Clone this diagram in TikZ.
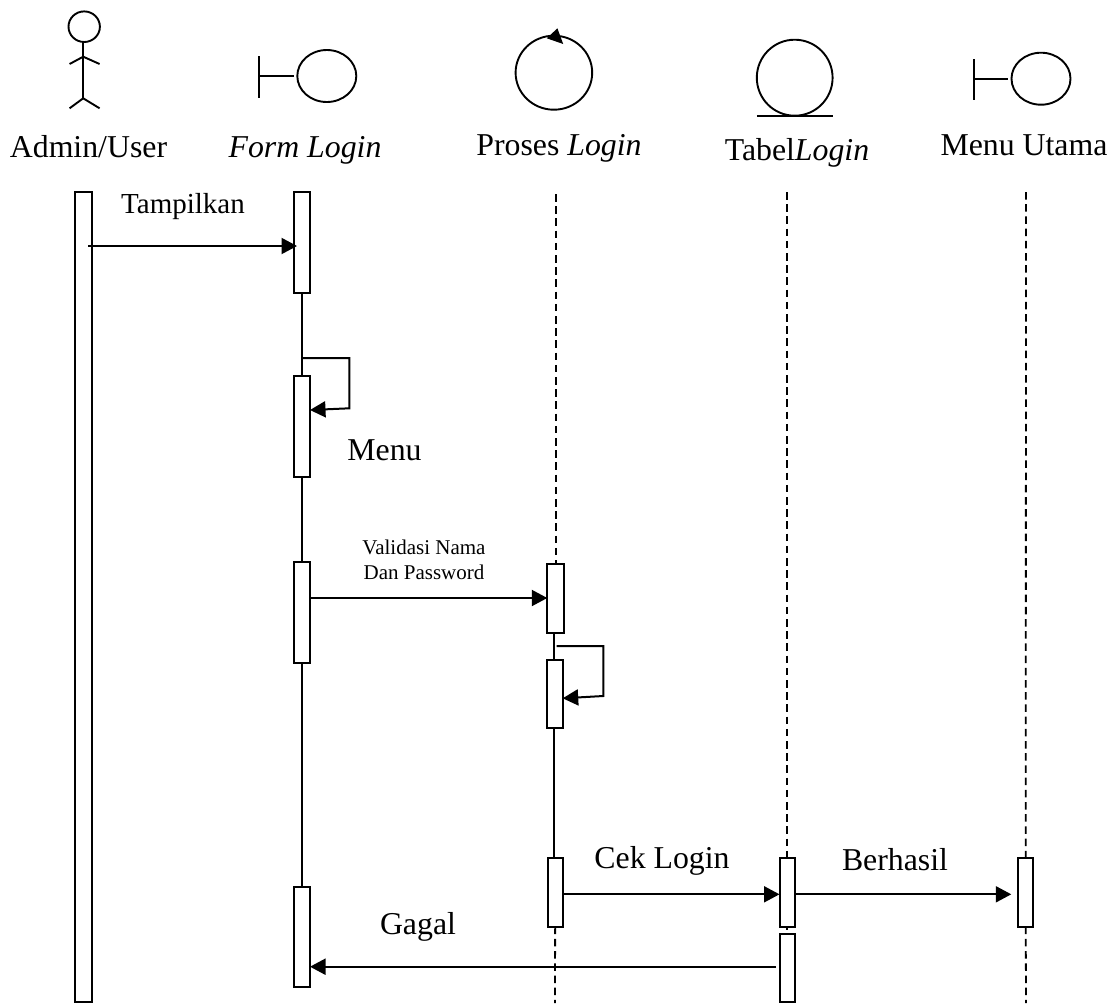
\documentclass[tikz,border=0pt]{standalone}
\usepackage{fontspec}
\setmainfont{Liberation Serif}
\usetikzlibrary{arrows.meta,calc,positioning}

\newcommand{\LabelFont}{\fontsize{31.8}{36}\selectfont}
\newcommand{\CallFont}{\fontsize{29}{33}\selectfont}
\newcommand{\SmallFont}{\fontsize{21}{25}\selectfont}

\begin{document}
\begin{tikzpicture}[
  x=1pt,y=-1pt,
  line cap=butt,
  line join=miter,
  >={Triangle[length=15.5pt,width=16pt]},
  icon/.style={draw=black,line width=1.9pt},
  activation/.style={draw=black,fill=white,line width=2pt,inner sep=0pt,outer sep=0pt},
  lifeline/.style={black,line width=1.9pt},
  dashline/.style={black,line width=1.8pt,dash pattern=on 7.5pt off 4.7pt},
  message/.style={black,line width=2pt,->},
  title text/.style={font=\LabelFont,anchor=base,inner sep=0pt},
  call text/.style={font=\LabelFont,anchor=base,inner sep=0pt}
]
\useasboundingbox (0,0) rectangle (1112,1005);

% Boundary icon: bar, stem and ellipse around one centre line.
\newcommand{\DrawBoundary}[6]{%
  \draw[icon] (#1,#2) -- (#1,#3);
  \draw[icon] (#1,#4) -- (#5-33,#4);
  \draw[icon] (#5,#4) ellipse (29.5 and #6);
}

% An activation bar given by its corners.
\newcommand{\ActBar}[5]{%
  \pgfmathsetmacro{\barW}{#4-#2}
  \pgfmathsetmacro{\barH}{#5-#3}
  \node[activation,minimum width=\barW pt,minimum height=\barH pt]
    (#1) at ({(#2+#4)/2},{(#3+#5)/2}) {};
}

% Actor.
\draw[icon] (84.2,26.7) ellipse (15.7 and 15.3);
\draw[icon] (83.2,42) -- (83.2,98.3);
\draw[icon] (69.6,64) -- (83.2,56.7) -- (99.6,64);
\draw[icon] (69.6,108.3) -- (83.2,98.3) -- (99.6,108.3);

% Boundary, control, entity, boundary.
\DrawBoundary{259.3}{56}{97.7}{76}{326.8}{26}
\draw[icon] (553.9,72.7) ellipse (38.3 and 37);
\fill[black] (557.4,28.3) -- (546.8,38.3) -- (563.2,44) -- cycle;
\draw[icon] (794.7,77.7) ellipse (37.9 and 38);
\draw[icon] (756.8,116) -- (832.6,116);
\DrawBoundary{974.2}{59}{100}{78.7}{1041}{26}

% Titles.
\node[title text] (lblAdmin) at (88.5,157) {Admin/User};
\node[title text] (lblForm) at (305,157) {\textit{Form Login}};
\node[title text] (lblProses) at (559,155) {Proses \textit{Login}};
\node[title text] (lblTabel) at (797,160) {Tabel\textit{Login}};
\node[title text] (lblMenu) at (1024,155) {Menu Utama};

% Free ends of the lifelines.
\coordinate (prosesTop) at (555.7,194);
\coordinate (tabelTop) at (787,192);
\coordinate (menuTop) at (1026,192);
\coordinate (prosesEnd) at (555,1003);
\coordinate (menuEnd) at (1026,1003);

% Activation bars.
\ActBar{adminBar}{75.4}{191.7}{92}{1002}
\ActBar{formBarA}{293.6}{191.7}{310}{292.7}
\ActBar{formBarB}{293.6}{376}{310}{476.7}
\ActBar{formBarC}{293.6}{561.7}{310}{662.7}
\ActBar{formBarD}{293.6}{886.7}{310}{986.7}
\ActBar{prosesBarA}{547.3}{564}{564}{632.7}
\ActBar{prosesBarB}{547.3}{660}{562.7}{728.3}
\ActBar{prosesBarC}{547.7}{858.3}{562.6}{926.7}
\ActBar{tabelBarA}{779.5}{858.3}{794.5}{926.7}
\ActBar{tabelBarB}{779.5}{934.3}{794.5}{1002.3}
\ActBar{menuBar}{1018.3}{858.3}{1033.2}{926.7}

% Lifelines, solid once the login is running.
\draw[lifeline] (formBarA.south) -- (formBarB.north);
\draw[lifeline] (formBarB.south) -- (formBarC.north);
\draw[lifeline] (formBarC.south) -- (formBarD.north);
\draw[lifeline] (554,632.7) -- (554,660);
\draw[lifeline] (554,728.3) -- (554,858.3);
\draw[dashline] (prosesTop) -- (prosesTop |- prosesBarA.north);
\draw[dashline] (prosesBarC.south) -- (prosesEnd);
\draw[dashline] (tabelTop) -- (tabelTop |- tabelBarA.north);
\draw[lifeline] (tabelTop |- tabelBarA.south) -- ++(0,3);
\draw[dashline] (menuTop) -- (menuBar.north);
\draw[dashline] (menuBar.south) -- (menuEnd);

% Messages.
\coordinate (tampilStart) at (88,246);
\draw[message] (tampilStart) -- ([xshift=3.4pt]tampilStart -| formBarA.west);
\node[font=\CallFont,anchor=base,inner sep=0pt] (lblTampil) at (183,213.3) {Tampilkan};

\coordinate (loopForm) at (301.7,358);
\draw[message] (loopForm) -- (349.3,358) -- (349.3,408.3) -- (formBarB.east |- 0,410);
\node[call text] (lblMenuCall) at (384.5,460) {Menu};

\coordinate (validStart) at (310,598);
\draw[message] (validStart) -- (validStart -| prosesBarA.west);
\node[font=\SmallFont,anchor=base,inner sep=0pt] (lblValidA) at (424,554) {Validasi Nama};
\node[font=\SmallFont,anchor=base,inner sep=0pt] (lblValidB) at (424,579) {Dan Password};

\coordinate (loopProses) at (556.7,646);
\draw[message] (loopProses) -- (603.3,646) -- (603.3,696) -- (prosesBarB.east |- 0,698.3);

\coordinate (cekStart) at (563.6,894.3);
\draw[message] (cekStart) -- (cekStart -| tabelBarA.west);
\node[call text] (lblCek) at (662,868.3) {Cek Login};

\coordinate (hasilStart) at (796.4,894.3);
\coordinate (hasilEnd) at (1011.3,894.3);
\draw[message] (hasilStart) -- (hasilEnd);
\node[call text] (lblHasil) at (895,870.7) {Berhasil};

\coordinate (gagalStart) at (776,966.7);
\draw[message] (gagalStart) -- (gagalStart -| formBarD.east);
\node[call text] (lblGagal) at (418,934.3) {Gagal};

\end{tikzpicture}
\end{document}
